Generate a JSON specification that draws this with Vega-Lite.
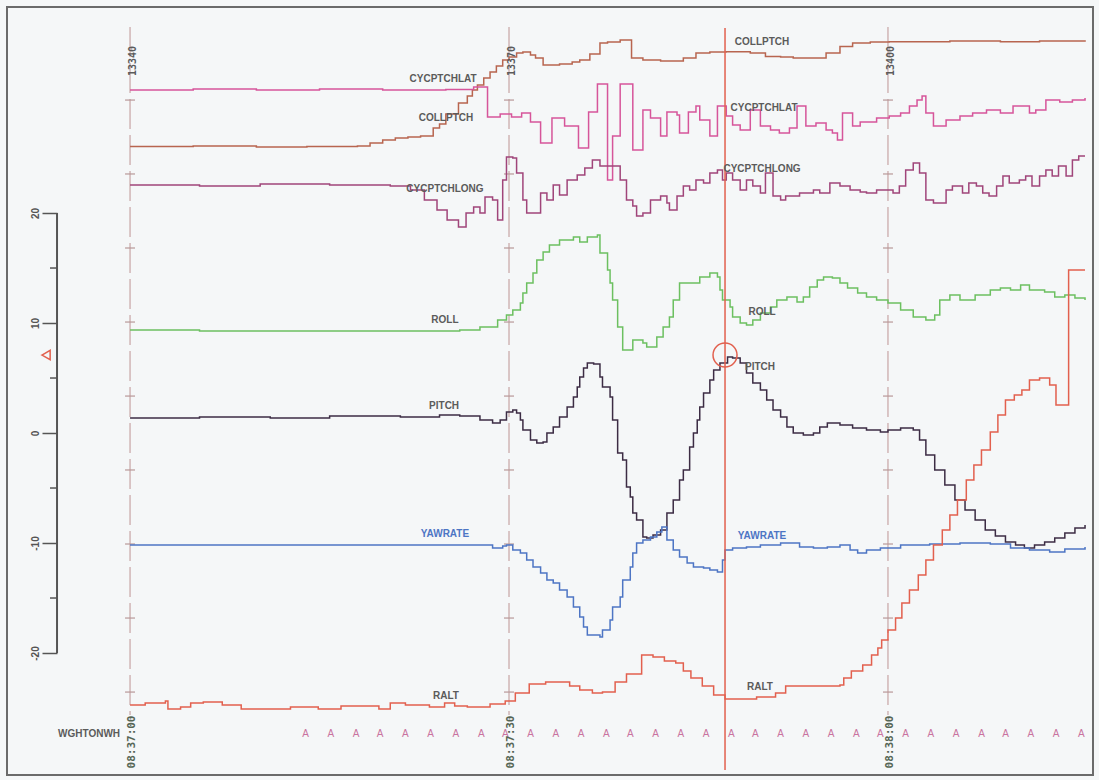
{
"$schema": "https://vega.github.io/schema/vega-lite/v6.json",
"width": 1086, "height": 768,
"autosize": {"type": "none"},
"padding": {"left": 7, "top": 7, "right": 6, "bottom": 5},
"background": "#f5f7f8",
"config": {"view": {"stroke": "#6b6b6b", "strokeWidth": 2}, "font": "Liberation Sans"},
"datasets": {
"series": [
{"s":"COLLPTCH","f":0.0,"v":26.05},{"s":"COLLPTCH","f":5.0,"v":26.09},{"s":"COLLPTCH","f":10.0,"v":26.0},{"s":"COLLPTCH","f":14.0,"v":26.05},{"s":"COLLPTCH","f":18.0,"v":26.09},{"s":"COLLPTCH","f":19.0,"v":26.36},{"s":"COLLPTCH","f":20.0,"v":26.64},{"s":"COLLPTCH","f":21.0,"v":26.82},{"s":"COLLPTCH","f":22.0,"v":26.91},{"s":"COLLPTCH","f":23.0,"v":27.0},{"s":"COLLPTCH","f":24.0,"v":27.73},{"s":"COLLPTCH","f":24.5,"v":28.09},{"s":"COLLPTCH","f":25.0,"v":29.0},{"s":"COLLPTCH","f":26.0,"v":30.0},{"s":"COLLPTCH","f":26.7,"v":30.64},{"s":"COLLPTCH","f":27.1,"v":31.18},{"s":"COLLPTCH","f":27.5,"v":31.64},{"s":"COLLPTCH","f":28.0,"v":32.27},{"s":"COLLPTCH","f":28.5,"v":32.82},{"s":"COLLPTCH","f":29.0,"v":33.36},{"s":"COLLPTCH","f":29.5,"v":33.91},{"s":"COLLPTCH","f":30.0,"v":34.18},{"s":"COLLPTCH","f":30.6,"v":34.55},{"s":"COLLPTCH","f":31.1,"v":34.64},{"s":"COLLPTCH","f":31.7,"v":34.36},{"s":"COLLPTCH","f":32.1,"v":34.09},{"s":"COLLPTCH","f":32.7,"v":33.45},{"s":"COLLPTCH","f":34.0,"v":33.55},{"s":"COLLPTCH","f":35.0,"v":33.73},{"s":"COLLPTCH","f":35.6,"v":33.91},{"s":"COLLPTCH","f":36.4,"v":34.45},{"s":"COLLPTCH","f":37.2,"v":35.45},{"s":"COLLPTCH","f":37.8,"v":35.55},{"s":"COLLPTCH","f":38.8,"v":35.73},{"s":"COLLPTCH","f":39.7,"v":34.09},{"s":"COLLPTCH","f":40.6,"v":33.91},{"s":"COLLPTCH","f":42.0,"v":33.82},{"s":"COLLPTCH","f":43.0,"v":33.82},{"s":"COLLPTCH","f":43.8,"v":34.09},{"s":"COLLPTCH","f":44.8,"v":34.55},{"s":"COLLPTCH","f":45.9,"v":34.64},{"s":"COLLPTCH","f":47.2,"v":34.67},{"s":"COLLPTCH","f":49.1,"v":34.55},{"s":"COLLPTCH","f":50.3,"v":34.23},{"s":"COLLPTCH","f":51.5,"v":34.18},{"s":"COLLPTCH","f":52.5,"v":34.09},{"s":"COLLPTCH","f":54.3,"v":34.09},{"s":"COLLPTCH","f":55.1,"v":34.55},{"s":"COLLPTCH","f":56.2,"v":35.13},{"s":"COLLPTCH","f":57.2,"v":35.45},{"s":"COLLPTCH","f":58.6,"v":35.55},{"s":"COLLPTCH","f":60.1,"v":35.58},{"s":"COLLPTCH","f":64.9,"v":35.64},{"s":"COLLPTCH","f":68.9,"v":35.58},{"s":"COLLPTCH","f":72.0,"v":35.64},{"s":"COLLPTCH","f":75.6,"v":35.58},
{"s":"CYCPTCHLAT","f":0.0,"v":31.18},{"s":"CYCPTCHLAT","f":5.0,"v":31.27},{"s":"CYCPTCHLAT","f":10.0,"v":31.18},{"s":"CYCPTCHLAT","f":15.0,"v":31.27},{"s":"CYCPTCHLAT","f":20.0,"v":31.18},{"s":"CYCPTCHLAT","f":25.0,"v":31.23},{"s":"CYCPTCHLAT","f":27.2,"v":31.45},{"s":"CYCPTCHLAT","f":28.3,"v":28.73},{"s":"CYCPTCHLAT","f":29.3,"v":29.0},{"s":"CYCPTCHLAT","f":30.2,"v":28.73},{"s":"CYCPTCHLAT","f":31.0,"v":29.09},{"s":"CYCPTCHLAT","f":31.7,"v":28.27},{"s":"CYCPTCHLAT","f":32.5,"v":26.36},{"s":"CYCPTCHLAT","f":33.4,"v":28.64},{"s":"CYCPTCHLAT","f":34.4,"v":27.91},{"s":"CYCPTCHLAT","f":35.5,"v":25.91},{"s":"CYCPTCHLAT","f":36.3,"v":29.18},{"s":"CYCPTCHLAT","f":37.0,"v":31.73},{"s":"CYCPTCHLAT","f":37.8,"v":23.0},{"s":"CYCPTCHLAT","f":38.2,"v":27.0},{"s":"CYCPTCHLAT","f":38.8,"v":31.73},{"s":"CYCPTCHLAT","f":39.8,"v":25.73},{"s":"CYCPTCHLAT","f":40.6,"v":29.36},{"s":"CYCPTCHLAT","f":41.2,"v":28.64},{"s":"CYCPTCHLAT","f":42.0,"v":27.0},{"s":"CYCPTCHLAT","f":42.5,"v":29.18},{"s":"CYCPTCHLAT","f":43.3,"v":28.91},{"s":"CYCPTCHLAT","f":43.5,"v":27.27},{"s":"CYCPTCHLAT","f":44.2,"v":29.18},{"s":"CYCPTCHLAT","f":44.8,"v":29.73},{"s":"CYCPTCHLAT","f":45.1,"v":28.45},{"s":"CYCPTCHLAT","f":45.9,"v":27.0},{"s":"CYCPTCHLAT","f":46.5,"v":29.73},{"s":"CYCPTCHLAT","f":47.2,"v":28.82},{"s":"CYCPTCHLAT","f":47.7,"v":28.0},{"s":"CYCPTCHLAT","f":48.3,"v":27.55},{"s":"CYCPTCHLAT","f":49.1,"v":29.36},{"s":"CYCPTCHLAT","f":49.9,"v":27.91},{"s":"CYCPTCHLAT","f":50.7,"v":27.55},{"s":"CYCPTCHLAT","f":51.4,"v":27.27},{"s":"CYCPTCHLAT","f":52.2,"v":27.73},{"s":"CYCPTCHLAT","f":52.8,"v":29.73},{"s":"CYCPTCHLAT","f":53.5,"v":27.91},{"s":"CYCPTCHLAT","f":54.3,"v":28.18},{"s":"CYCPTCHLAT","f":55.1,"v":27.55},{"s":"CYCPTCHLAT","f":55.6,"v":27.27},{"s":"CYCPTCHLAT","f":56.0,"v":26.64},{"s":"CYCPTCHLAT","f":56.4,"v":29.09},{"s":"CYCPTCHLAT","f":57.2,"v":27.91},{"s":"CYCPTCHLAT","f":57.8,"v":28.27},{"s":"CYCPTCHLAT","f":59.1,"v":28.64},{"s":"CYCPTCHLAT","f":60.1,"v":28.82},{"s":"CYCPTCHLAT","f":61.0,"v":29.09},{"s":"CYCPTCHLAT","f":61.7,"v":29.73},{"s":"CYCPTCHLAT","f":62.3,"v":30.27},{"s":"CYCPTCHLAT","f":62.7,"v":30.64},{"s":"CYCPTCHLAT","f":63.0,"v":29.09},{"s":"CYCPTCHLAT","f":63.6,"v":27.91},{"s":"CYCPTCHLAT","f":64.6,"v":28.45},{"s":"CYCPTCHLAT","f":65.7,"v":28.82},{"s":"CYCPTCHLAT","f":66.7,"v":29.09},{"s":"CYCPTCHLAT","f":67.8,"v":29.36},{"s":"CYCPTCHLAT","f":68.9,"v":29.09},{"s":"CYCPTCHLAT","f":69.9,"v":29.73},{"s":"CYCPTCHLAT","f":71.2,"v":29.09},{"s":"CYCPTCHLAT","f":71.7,"v":29.36},{"s":"CYCPTCHLAT","f":72.5,"v":30.27},{"s":"CYCPTCHLAT","f":73.6,"v":30.09},{"s":"CYCPTCHLAT","f":74.6,"v":30.27},{"s":"CYCPTCHLAT","f":75.6,"v":30.45},
{"s":"CYCPTCHLONG","f":0.0,"v":22.55},{"s":"CYCPTCHLONG","f":5.5,"v":22.45},{"s":"CYCPTCHLONG","f":10.3,"v":22.64},{"s":"CYCPTCHLONG","f":15.8,"v":22.55},{"s":"CYCPTCHLONG","f":20.6,"v":22.45},{"s":"CYCPTCHLONG","f":22.2,"v":22.09},{"s":"CYCPTCHLONG","f":23.3,"v":21.18},{"s":"CYCPTCHLONG","f":24.3,"v":20.27},{"s":"CYCPTCHLONG","f":25.1,"v":19.36},{"s":"CYCPTCHLONG","f":26.0,"v":18.73},{"s":"CYCPTCHLONG","f":26.6,"v":20.0},{"s":"CYCPTCHLONG","f":27.2,"v":20.55},{"s":"CYCPTCHLONG","f":27.7,"v":20.0},{"s":"CYCPTCHLONG","f":28.1,"v":21.45},{"s":"CYCPTCHLONG","f":28.7,"v":21.18},{"s":"CYCPTCHLONG","f":29.1,"v":19.36},{"s":"CYCPTCHLONG","f":29.5,"v":23.0},{"s":"CYCPTCHLONG","f":29.8,"v":25.09},{"s":"CYCPTCHLONG","f":30.3,"v":25.0},{"s":"CYCPTCHLONG","f":30.6,"v":23.64},{"s":"CYCPTCHLONG","f":31.1,"v":21.18},{"s":"CYCPTCHLONG","f":31.4,"v":20.0},{"s":"CYCPTCHLONG","f":32.2,"v":20.0},{"s":"CYCPTCHLONG","f":32.5,"v":21.82},{"s":"CYCPTCHLONG","f":33.0,"v":21.18},{"s":"CYCPTCHLONG","f":33.5,"v":22.55},{"s":"CYCPTCHLONG","f":34.0,"v":21.64},{"s":"CYCPTCHLONG","f":34.6,"v":23.0},{"s":"CYCPTCHLONG","f":35.4,"v":23.45},{"s":"CYCPTCHLONG","f":36.0,"v":24.09},{"s":"CYCPTCHLONG","f":36.6,"v":24.82},{"s":"CYCPTCHLONG","f":37.2,"v":24.27},{"s":"CYCPTCHLONG","f":38.2,"v":24.27},{"s":"CYCPTCHLONG","f":38.8,"v":23.0},{"s":"CYCPTCHLONG","f":39.3,"v":21.18},{"s":"CYCPTCHLONG","f":39.8,"v":20.64},{"s":"CYCPTCHLONG","f":40.1,"v":19.73},{"s":"CYCPTCHLONG","f":40.6,"v":20.0},{"s":"CYCPTCHLONG","f":41.2,"v":21.18},{"s":"CYCPTCHLONG","f":42.0,"v":21.55},{"s":"CYCPTCHLONG","f":42.5,"v":20.91},{"s":"CYCPTCHLONG","f":42.7,"v":20.27},{"s":"CYCPTCHLONG","f":43.3,"v":21.55},{"s":"CYCPTCHLONG","f":43.8,"v":22.45},{"s":"CYCPTCHLONG","f":44.3,"v":22.09},{"s":"CYCPTCHLONG","f":44.8,"v":23.0},{"s":"CYCPTCHLONG","f":45.4,"v":22.73},{"s":"CYCPTCHLONG","f":45.9,"v":23.64},{"s":"CYCPTCHLONG","f":46.5,"v":23.91},{"s":"CYCPTCHLONG","f":46.9,"v":23.0},{"s":"CYCPTCHLONG","f":47.2,"v":23.64},{"s":"CYCPTCHLONG","f":47.7,"v":23.0},{"s":"CYCPTCHLONG","f":48.3,"v":22.09},{"s":"CYCPTCHLONG","f":48.8,"v":23.0},{"s":"CYCPTCHLONG","f":49.3,"v":22.45},{"s":"CYCPTCHLONG","f":49.9,"v":21.82},{"s":"CYCPTCHLONG","f":50.3,"v":23.64},{"s":"CYCPTCHLONG","f":50.9,"v":21.55},{"s":"CYCPTCHLONG","f":51.5,"v":21.18},{"s":"CYCPTCHLONG","f":51.9,"v":21.55},{"s":"CYCPTCHLONG","f":53.0,"v":21.82},{"s":"CYCPTCHLONG","f":54.1,"v":22.09},{"s":"CYCPTCHLONG","f":54.6,"v":21.82},{"s":"CYCPTCHLONG","f":55.4,"v":22.73},{"s":"CYCPTCHLONG","f":56.2,"v":22.45},{"s":"CYCPTCHLONG","f":57.0,"v":22.09},{"s":"CYCPTCHLONG","f":57.8,"v":21.91},{"s":"CYCPTCHLONG","f":58.3,"v":21.82},{"s":"CYCPTCHLONG","f":59.1,"v":22.09},{"s":"CYCPTCHLONG","f":60.4,"v":21.82},{"s":"CYCPTCHLONG","f":60.9,"v":22.45},{"s":"CYCPTCHLONG","f":61.4,"v":23.91},{"s":"CYCPTCHLONG","f":62.0,"v":24.55},{"s":"CYCPTCHLONG","f":62.5,"v":23.64},{"s":"CYCPTCHLONG","f":63.0,"v":21.18},{"s":"CYCPTCHLONG","f":63.6,"v":20.91},{"s":"CYCPTCHLONG","f":64.6,"v":22.09},{"s":"CYCPTCHLONG","f":65.1,"v":22.45},{"s":"CYCPTCHLONG","f":65.9,"v":21.82},{"s":"CYCPTCHLONG","f":66.4,"v":22.73},{"s":"CYCPTCHLONG","f":67.0,"v":22.45},{"s":"CYCPTCHLONG","f":67.5,"v":21.82},{"s":"CYCPTCHLONG","f":68.0,"v":21.55},{"s":"CYCPTCHLONG","f":68.6,"v":22.45},{"s":"CYCPTCHLONG","f":69.1,"v":23.36},{"s":"CYCPTCHLONG","f":69.6,"v":22.73},{"s":"CYCPTCHLONG","f":70.4,"v":23.0},{"s":"CYCPTCHLONG","f":70.9,"v":23.36},{"s":"CYCPTCHLONG","f":71.4,"v":22.45},{"s":"CYCPTCHLONG","f":72.0,"v":23.36},{"s":"CYCPTCHLONG","f":72.5,"v":23.91},{"s":"CYCPTCHLONG","f":73.0,"v":23.36},{"s":"CYCPTCHLONG","f":73.5,"v":24.27},{"s":"CYCPTCHLONG","f":74.1,"v":23.36},{"s":"CYCPTCHLONG","f":74.6,"v":24.82},{"s":"CYCPTCHLONG","f":75.1,"v":25.18},{"s":"CYCPTCHLONG","f":75.6,"v":25.18},
{"s":"ROLL","f":0.0,"v":9.36},{"s":"ROLL","f":5.5,"v":9.27},{"s":"ROLL","f":11.1,"v":9.27},{"s":"ROLL","f":16.6,"v":9.27},{"s":"ROLL","f":21.4,"v":9.27},{"s":"ROLL","f":24.5,"v":9.27},{"s":"ROLL","f":26.1,"v":9.36},{"s":"ROLL","f":27.7,"v":9.64},{"s":"ROLL","f":29.1,"v":10.27},{"s":"ROLL","f":29.8,"v":10.73},{"s":"ROLL","f":30.3,"v":11.18},{"s":"ROLL","f":30.9,"v":11.82},{"s":"ROLL","f":31.1,"v":12.73},{"s":"ROLL","f":31.4,"v":13.64},{"s":"ROLL","f":31.9,"v":14.55},{"s":"ROLL","f":32.2,"v":15.73},{"s":"ROLL","f":32.7,"v":16.45},{"s":"ROLL","f":33.2,"v":17.09},{"s":"ROLL","f":34.0,"v":17.55},{"s":"ROLL","f":35.1,"v":17.82},{"s":"ROLL","f":35.6,"v":17.36},{"s":"ROLL","f":36.2,"v":17.82},{"s":"ROLL","f":37.0,"v":18.0},{"s":"ROLL","f":37.2,"v":16.36},{"s":"ROLL","f":37.8,"v":14.82},{"s":"ROLL","f":38.0,"v":13.64},{"s":"ROLL","f":38.2,"v":12.09},{"s":"ROLL","f":38.6,"v":9.64},{"s":"ROLL","f":39.0,"v":7.55},{"s":"ROLL","f":39.8,"v":8.45},{"s":"ROLL","f":40.6,"v":8.18},{"s":"ROLL","f":40.9,"v":7.82},{"s":"ROLL","f":41.7,"v":8.73},{"s":"ROLL","f":42.2,"v":9.64},{"s":"ROLL","f":42.7,"v":10.55},{"s":"ROLL","f":43.0,"v":12.09},{"s":"ROLL","f":43.5,"v":13.64},{"s":"ROLL","f":44.6,"v":13.64},{"s":"ROLL","f":45.1,"v":14.18},{"s":"ROLL","f":45.9,"v":14.55},{"s":"ROLL","f":46.5,"v":14.18},{"s":"ROLL","f":46.7,"v":13.0},{"s":"ROLL","f":46.9,"v":12.09},{"s":"ROLL","f":47.5,"v":11.45},{"s":"ROLL","f":47.7,"v":10.55},{"s":"ROLL","f":48.3,"v":10.0},{"s":"ROLL","f":48.8,"v":9.82},{"s":"ROLL","f":49.3,"v":10.27},{"s":"ROLL","f":49.9,"v":10.91},{"s":"ROLL","f":50.7,"v":11.45},{"s":"ROLL","f":51.2,"v":12.09},{"s":"ROLL","f":52.0,"v":12.36},{"s":"ROLL","f":52.8,"v":11.91},{"s":"ROLL","f":53.3,"v":12.36},{"s":"ROLL","f":53.8,"v":13.27},{"s":"ROLL","f":54.4,"v":13.91},{"s":"ROLL","f":54.9,"v":14.18},{"s":"ROLL","f":55.6,"v":14.09},{"s":"ROLL","f":56.2,"v":13.64},{"s":"ROLL","f":56.8,"v":13.18},{"s":"ROLL","f":57.6,"v":12.73},{"s":"ROLL","f":58.3,"v":12.36},{"s":"ROLL","f":59.1,"v":12.09},{"s":"ROLL","f":60.0,"v":11.82},{"s":"ROLL","f":61.0,"v":11.18},{"s":"ROLL","f":62.0,"v":10.55},{"s":"ROLL","f":63.0,"v":10.27},{"s":"ROLL","f":63.7,"v":10.73},{"s":"ROLL","f":64.1,"v":12.09},{"s":"ROLL","f":64.9,"v":12.55},{"s":"ROLL","f":65.7,"v":12.09},{"s":"ROLL","f":66.9,"v":12.55},{"s":"ROLL","f":68.1,"v":13.0},{"s":"ROLL","f":68.9,"v":13.18},{"s":"ROLL","f":69.7,"v":13.0},{"s":"ROLL","f":70.5,"v":13.45},{"s":"ROLL","f":71.2,"v":13.0},{"s":"ROLL","f":72.4,"v":12.82},{"s":"ROLL","f":73.2,"v":12.36},{"s":"ROLL","f":74.0,"v":12.55},{"s":"ROLL","f":74.8,"v":12.27},{"s":"ROLL","f":75.6,"v":12.09},
{"s":"PITCH","f":0.0,"v":1.36},{"s":"PITCH","f":5.5,"v":1.45},{"s":"PITCH","f":11.1,"v":1.36},{"s":"PITCH","f":15.8,"v":1.55},{"s":"PITCH","f":21.4,"v":1.45},{"s":"PITCH","f":24.5,"v":1.64},{"s":"PITCH","f":26.1,"v":1.55},{"s":"PITCH","f":27.7,"v":1.18},{"s":"PITCH","f":28.7,"v":0.91},{"s":"PITCH","f":29.3,"v":1.18},{"s":"PITCH","f":29.8,"v":1.91},{"s":"PITCH","f":30.3,"v":2.09},{"s":"PITCH","f":30.6,"v":1.82},{"s":"PITCH","f":30.9,"v":1.18},{"s":"PITCH","f":31.1,"v":0.27},{"s":"PITCH","f":31.7,"v":-0.64},{"s":"PITCH","f":32.2,"v":-0.91},{"s":"PITCH","f":32.7,"v":-0.82},{"s":"PITCH","f":33.0,"v":0.0},{"s":"PITCH","f":33.5,"v":0.55},{"s":"PITCH","f":34.0,"v":1.45},{"s":"PITCH","f":34.6,"v":2.36},{"s":"PITCH","f":35.1,"v":3.27},{"s":"PITCH","f":35.4,"v":4.18},{"s":"PITCH","f":35.6,"v":5.09},{"s":"PITCH","f":35.9,"v":5.91},{"s":"PITCH","f":36.2,"v":6.36},{"s":"PITCH","f":36.7,"v":6.27},{"s":"PITCH","f":37.2,"v":5.09},{"s":"PITCH","f":37.4,"v":4.18},{"s":"PITCH","f":38.0,"v":3.27},{"s":"PITCH","f":38.2,"v":1.18},{"s":"PITCH","f":38.6,"v":-1.82},{"s":"PITCH","f":39.0,"v":-2.45},{"s":"PITCH","f":39.3,"v":-4.91},{"s":"PITCH","f":39.6,"v":-5.82},{"s":"PITCH","f":39.8,"v":-7.27},{"s":"PITCH","f":40.1,"v":-7.91},{"s":"PITCH","f":40.6,"v":-9.45},{"s":"PITCH","f":40.9,"v":-9.55},{"s":"PITCH","f":41.4,"v":-9.27},{"s":"PITCH","f":42.0,"v":-8.82},{"s":"PITCH","f":42.5,"v":-7.27},{"s":"PITCH","f":43.0,"v":-6.09},{"s":"PITCH","f":43.5,"v":-4.27},{"s":"PITCH","f":43.8,"v":-3.36},{"s":"PITCH","f":44.3,"v":-1.27},{"s":"PITCH","f":44.6,"v":0.0},{"s":"PITCH","f":44.9,"v":1.18},{"s":"PITCH","f":45.1,"v":2.36},{"s":"PITCH","f":45.4,"v":3.64},{"s":"PITCH","f":45.9,"v":4.82},{"s":"PITCH","f":46.2,"v":5.73},{"s":"PITCH","f":46.7,"v":6.36},{"s":"PITCH","f":47.3,"v":6.91},{"s":"PITCH","f":47.7,"v":6.82},{"s":"PITCH","f":48.3,"v":6.36},{"s":"PITCH","f":48.8,"v":5.45},{"s":"PITCH","f":49.3,"v":4.55},{"s":"PITCH","f":49.9,"v":3.91},{"s":"PITCH","f":50.4,"v":3.0},{"s":"PITCH","f":50.9,"v":2.09},{"s":"PITCH","f":51.5,"v":1.45},{"s":"PITCH","f":52.0,"v":0.55},{"s":"PITCH","f":52.5,"v":0.0},{"s":"PITCH","f":53.3,"v":-0.18},{"s":"PITCH","f":54.1,"v":0.0},{"s":"PITCH","f":54.6,"v":0.55},{"s":"PITCH","f":55.2,"v":0.91},{"s":"PITCH","f":56.2,"v":0.73},{"s":"PITCH","f":57.2,"v":0.45},{"s":"PITCH","f":58.3,"v":0.27},{"s":"PITCH","f":59.4,"v":0.09},{"s":"PITCH","f":60.0,"v":0.27},{"s":"PITCH","f":61.0,"v":0.45},{"s":"PITCH","f":62.0,"v":0.27},{"s":"PITCH","f":62.5,"v":-0.64},{"s":"PITCH","f":63.0,"v":-2.0},{"s":"PITCH","f":63.7,"v":-3.36},{"s":"PITCH","f":64.5,"v":-4.73},{"s":"PITCH","f":65.3,"v":-6.09},{"s":"PITCH","f":66.1,"v":-7.0},{"s":"PITCH","f":66.9,"v":-7.91},{"s":"PITCH","f":67.7,"v":-8.82},{"s":"PITCH","f":68.5,"v":-9.36},{"s":"PITCH","f":69.3,"v":-9.91},{"s":"PITCH","f":70.1,"v":-10.18},{"s":"PITCH","f":70.8,"v":-10.45},{"s":"PITCH","f":71.6,"v":-10.18},{"s":"PITCH","f":72.4,"v":-9.91},{"s":"PITCH","f":73.2,"v":-9.55},{"s":"PITCH","f":74.0,"v":-9.09},{"s":"PITCH","f":74.8,"v":-8.64},{"s":"PITCH","f":75.6,"v":-8.36},
{"s":"YAWRATE","f":0.0,"v":-10.18},{"s":"YAWRATE","f":9.5,"v":-10.18},{"s":"YAWRATE","f":19.8,"v":-10.18},{"s":"YAWRATE","f":28.5,"v":-10.18},{"s":"YAWRATE","f":28.7,"v":-10.45},{"s":"YAWRATE","f":29.5,"v":-10.27},{"s":"YAWRATE","f":29.8,"v":-10.18},{"s":"YAWRATE","f":30.3,"v":-10.64},{"s":"YAWRATE","f":30.9,"v":-10.91},{"s":"YAWRATE","f":31.4,"v":-11.55},{"s":"YAWRATE","f":31.9,"v":-12.18},{"s":"YAWRATE","f":32.5,"v":-12.73},{"s":"YAWRATE","f":33.0,"v":-13.36},{"s":"YAWRATE","f":33.5,"v":-13.64},{"s":"YAWRATE","f":34.0,"v":-14.27},{"s":"YAWRATE","f":34.6,"v":-14.91},{"s":"YAWRATE","f":35.1,"v":-15.82},{"s":"YAWRATE","f":35.6,"v":-16.73},{"s":"YAWRATE","f":35.9,"v":-17.64},{"s":"YAWRATE","f":36.2,"v":-18.36},{"s":"YAWRATE","f":37.2,"v":-18.55},{"s":"YAWRATE","f":37.4,"v":-17.91},{"s":"YAWRATE","f":38.0,"v":-17.0},{"s":"YAWRATE","f":38.2,"v":-15.82},{"s":"YAWRATE","f":38.8,"v":-14.91},{"s":"YAWRATE","f":39.0,"v":-13.36},{"s":"YAWRATE","f":39.6,"v":-12.18},{"s":"YAWRATE","f":39.8,"v":-10.91},{"s":"YAWRATE","f":40.1,"v":-10.0},{"s":"YAWRATE","f":40.6,"v":-9.73},{"s":"YAWRATE","f":41.2,"v":-9.45},{"s":"YAWRATE","f":41.7,"v":-9.0},{"s":"YAWRATE","f":42.1,"v":-8.55},{"s":"YAWRATE","f":42.5,"v":-9.73},{"s":"YAWRATE","f":43.0,"v":-10.64},{"s":"YAWRATE","f":43.5,"v":-11.27},{"s":"YAWRATE","f":44.1,"v":-11.82},{"s":"YAWRATE","f":44.6,"v":-12.18},{"s":"YAWRATE","f":45.4,"v":-12.27},{"s":"YAWRATE","f":45.9,"v":-12.45},{"s":"YAWRATE","f":46.5,"v":-12.64},{"s":"YAWRATE","f":46.9,"v":-11.55},{"s":"YAWRATE","f":47.1,"v":-10.64},{"s":"YAWRATE","f":47.7,"v":-10.45},{"s":"YAWRATE","f":48.8,"v":-10.36},{"s":"YAWRATE","f":49.9,"v":-10.18},{"s":"YAWRATE","f":51.5,"v":-10.0},{"s":"YAWRATE","f":53.0,"v":-10.36},{"s":"YAWRATE","f":54.1,"v":-10.45},{"s":"YAWRATE","f":55.2,"v":-10.36},{"s":"YAWRATE","f":56.2,"v":-10.18},{"s":"YAWRATE","f":57.0,"v":-10.64},{"s":"YAWRATE","f":57.6,"v":-10.91},{"s":"YAWRATE","f":58.3,"v":-10.64},{"s":"YAWRATE","f":59.4,"v":-10.45},{"s":"YAWRATE","f":61.0,"v":-10.18},{"s":"YAWRATE","f":63.3,"v":-10.09},{"s":"YAWRATE","f":65.7,"v":-10.0},{"s":"YAWRATE","f":68.1,"v":-10.09},{"s":"YAWRATE","f":69.7,"v":-10.45},{"s":"YAWRATE","f":71.2,"v":-10.64},{"s":"YAWRATE","f":72.8,"v":-10.82},{"s":"YAWRATE","f":74.0,"v":-10.55},{"s":"YAWRATE","f":75.6,"v":-10.36},
{"s":"RALT","f":0.0,"v":-24.73},{"s":"RALT","f":1.2,"v":-24.55},{"s":"RALT","f":2.8,"v":-24.36},{"s":"RALT","f":3.0,"v":-25.09},{"s":"RALT","f":4.0,"v":-24.91},{"s":"RALT","f":4.8,"v":-24.55},{"s":"RALT","f":5.8,"v":-24.45},{"s":"RALT","f":7.3,"v":-24.73},{"s":"RALT","f":8.8,"v":-25.09},{"s":"RALT","f":12.7,"v":-24.91},{"s":"RALT","f":14.9,"v":-25.09},{"s":"RALT","f":16.7,"v":-24.82},{"s":"RALT","f":19.7,"v":-25.09},{"s":"RALT","f":20.6,"v":-24.55},{"s":"RALT","f":21.8,"v":-24.73},{"s":"RALT","f":23.7,"v":-24.91},{"s":"RALT","f":24.9,"v":-24.55},{"s":"RALT","f":25.7,"v":-24.82},{"s":"RALT","f":26.7,"v":-24.91},{"s":"RALT","f":28.5,"v":-24.64},{"s":"RALT","f":29.7,"v":-24.36},{"s":"RALT","f":30.5,"v":-23.64},{"s":"RALT","f":31.6,"v":-22.82},{"s":"RALT","f":32.9,"v":-22.64},{"s":"RALT","f":34.8,"v":-23.0},{"s":"RALT","f":35.6,"v":-23.36},{"s":"RALT","f":36.6,"v":-23.64},{"s":"RALT","f":37.4,"v":-23.55},{"s":"RALT","f":38.4,"v":-22.64},{"s":"RALT","f":39.3,"v":-21.91},{"s":"RALT","f":40.5,"v":-20.18},{"s":"RALT","f":41.4,"v":-20.36},{"s":"RALT","f":42.3,"v":-20.73},{"s":"RALT","f":43.2,"v":-20.91},{"s":"RALT","f":43.8,"v":-21.64},{"s":"RALT","f":44.4,"v":-22.27},{"s":"RALT","f":45.3,"v":-23.0},{"s":"RALT","f":46.2,"v":-23.82},{"s":"RALT","f":47.1,"v":-24.18},{"s":"RALT","f":48.6,"v":-24.18},{"s":"RALT","f":49.6,"v":-24.0},{"s":"RALT","f":51.1,"v":-23.64},{"s":"RALT","f":51.9,"v":-23.0},{"s":"RALT","f":53.5,"v":-23.0},{"s":"RALT","f":56.2,"v":-22.91},{"s":"RALT","f":56.5,"v":-22.27},{"s":"RALT","f":57.1,"v":-21.64},{"s":"RALT","f":58.0,"v":-21.09},{"s":"RALT","f":58.7,"v":-20.18},{"s":"RALT","f":59.2,"v":-19.55},{"s":"RALT","f":59.5,"v":-18.82},{"s":"RALT","f":60.0,"v":-17.91},{"s":"RALT","f":60.6,"v":-16.82},{"s":"RALT","f":61.1,"v":-15.45},{"s":"RALT","f":61.7,"v":-14.27},{"s":"RALT","f":62.4,"v":-12.91},{"s":"RALT","f":63.0,"v":-11.55},{"s":"RALT","f":63.6,"v":-10.18},{"s":"RALT","f":64.3,"v":-8.82},{"s":"RALT","f":64.9,"v":-7.45},{"s":"RALT","f":65.5,"v":-6.09},{"s":"RALT","f":66.2,"v":-4.27},{"s":"RALT","f":66.8,"v":-2.91},{"s":"RALT","f":67.4,"v":-1.55},{"s":"RALT","f":68.1,"v":0.09},{"s":"RALT","f":68.7,"v":1.64},{"s":"RALT","f":69.3,"v":3.0},{"s":"RALT","f":70.0,"v":3.45},{"s":"RALT","f":70.6,"v":3.91},{"s":"RALT","f":71.2,"v":4.82},{"s":"RALT","f":72.0,"v":5.0},{"s":"RALT","f":72.8,"v":4.36},{"s":"RALT","f":73.3,"v":2.55},{"s":"RALT","f":74.3,"v":14.82},{"s":"RALT","f":75.6,"v":14.82}
],
"grayLabels": [
{"f":24.78,"v":32.18,"t":"CYCPTCHLAT"},{"f":25.01,"v":28.64,"t":"COLLPTCH"},{"f":24.93,"v":22.18,"t":"CYCPTCHLONG"},
{"f":50.03,"v":35.55,"t":"COLLPTCH"},{"f":50.19,"v":29.55,"t":"CYCPTCHLAT"},{"f":50.03,"v":24.0,"t":"CYCPTCHLONG"},
{"f":24.93,"v":10.27,"t":"ROLL"},{"f":50.03,"v":11.0,"t":"ROLL"},
{"f":24.86,"v":2.45,"t":"PITCH"},{"f":49.87,"v":6.0,"t":"PITCH"},
{"f":25.01,"v":-23.91,"t":"RALT"},{"f":49.87,"v":-23.09,"t":"RALT"}
],
"blueLabels": [
{"f":24.93,"v":-9.18,"t":"YAWRATE"},{"f":50.03,"v":-9.36,"t":"YAWRATE"}
],
"marksA": [
{"f":13.9,"v":-27.36},{"f":15.9,"v":-27.36},{"f":17.9,"v":-27.36},{"f":19.8,"v":-27.36},{"f":21.8,"v":-27.36},{"f":23.8,"v":-27.36},{"f":25.8,"v":-27.36},{"f":27.8,"v":-27.36},{"f":29.7,"v":-27.36},{"f":31.7,"v":-27.36},{"f":33.7,"v":-27.36},{"f":35.7,"v":-27.36},{"f":37.7,"v":-27.36},{"f":39.6,"v":-27.36},{"f":41.6,"v":-27.36},{"f":43.6,"v":-27.36},{"f":45.6,"v":-27.36},{"f":47.6,"v":-27.36},{"f":49.5,"v":-27.36},{"f":51.5,"v":-27.36},{"f":53.5,"v":-27.36},{"f":55.5,"v":-27.36},{"f":57.5,"v":-27.36},{"f":59.4,"v":-27.36},{"f":61.4,"v":-27.36},{"f":63.4,"v":-27.36},{"f":65.4,"v":-27.36},{"f":67.4,"v":-27.36},{"f":69.3,"v":-27.36},{"f":71.3,"v":-27.36},{"f":73.3,"v":-27.36},{"f":75.3,"v":-27.36}
],
"dash": [
{"f":0,"v":36.91,"v2":-25.64},{"f":30,"v":36.91,"v2":-25.64},{"f":60,"v":36.91,"v2":-25.64}
],
"cross": [
{"f":0,"v":30.27},{"f":0,"v":23.55},{"f":0,"v":16.82},{"f":0,"v":10.09},{"f":0,"v":3.36},{"f":0,"v":-3.36},{"f":0,"v":-10.09},{"f":0,"v":-16.82},{"f":0,"v":-23.55},
{"f":30,"v":30.27},{"f":30,"v":23.55},{"f":30,"v":16.82},{"f":30,"v":10.09},{"f":30,"v":3.36},{"f":30,"v":-3.36},{"f":30,"v":-10.09},{"f":30,"v":-16.82},{"f":30,"v":-23.55},
{"f":60,"v":30.27},{"f":60,"v":23.55},{"f":60,"v":16.82},{"f":60,"v":10.09},{"f":60,"v":3.36},{"f":60,"v":-3.36},{"f":60,"v":-10.09},{"f":60,"v":-16.82},{"f":60,"v":-23.55}
],
"frameLabels": [
{"f":0.25,"v":33.82,"t":"13340"},{"f":30.25,"v":33.82,"t":"13370"},{"f":60.25,"v":33.82,"t":"13400"}
],
"timeLabels": [
{"f":0.15,"v":-28.09,"t":"08:37:00"},{"f":30.15,"v":-28.09,"t":"08:37:30"},{"f":60.15,"v":-28.09,"t":"08:38:00"}
]
},
"encoding": {
"x": {"field": "f", "type": "quantitative", "scale": {"domain": [-9.74, 76.23], "nice": false, "zero": false}, "axis": null},
"y": {"field": "v", "type": "quantitative", "scale": {"domain": [-31.09, 38.73], "nice": false, "zero": false},
 "axis": {"title": null, "values": [-20, -10, 0, 10, 20], "domain": false, "grid": false, "offset": -50, "tickSize": 15, "tickWidth": 1.5, "tickColor": "#555555", "labelAngle": 270, "labelAlign": "center", "labelBaseline": "bottom", "labelPadding": 2, "labelFont": "Liberation Sans", "labelFontSize": 10, "labelFontWeight": "bold", "labelColor": "#555555", "labelExpr": "'' + datum.value"}}
},
"layer": [
{"data": {"name": "dash"}, "mark": {"type": "rule", "stroke": "#c7a5a5", "strokeWidth": 1.2, "strokeDash": [30, 6]}, "encoding": {"y2": {"field": "v2"}}},
{"data": {"name": "cross"}, "mark": {"type": "point", "shape": "stroke", "size": 100, "filled": false, "stroke": "#b89898", "strokeWidth": 1.2, "opacity": 1}},
{"data": {"values": [{"f": -5.78, "v": 20, "v2": -20}]}, "mark": {"type": "rule", "stroke": "#555555", "strokeWidth": 2}, "encoding": {"y2": {"field": "v2"}}},
{"data": {"values": [{"f": -6.06, "v": 15}, {"f": -6.06, "v": 5}, {"f": -6.06, "v": -5}, {"f": -6.06, "v": -15}]}, "mark": {"type": "point", "shape": "stroke", "size": 49, "filled": false, "stroke": "#555555", "strokeWidth": 1.5, "opacity": 1}},
{"data": {"name": "series"}, "mark": {"type": "line", "interpolate": "step-after", "strokeWidth": 1.5},
 "encoding": {"color": {"field": "s", "type": "nominal", "legend": null,
  "scale": {"domain": ["COLLPTCH","CYCPTCHLAT","CYCPTCHLONG","ROLL","PITCH","YAWRATE","RALT"], "range": ["#b8654f","#d6559a","#a0457a","#6cc060","#3c2c44","#4d75c4","#e2604e"]}}}},
{"data": {"values": [{"f": 47.1, "v": 36.82, "v2": -30.64}]}, "mark": {"type": "rule", "stroke": "#e2604e", "strokeWidth": 1.5}, "encoding": {"y2": {"field": "v2"}}},
{"data": {"values": [{"f": 47.1, "v": 7.09}]}, "mark": {"type": "point", "shape": "circle", "size": 576, "filled": false, "stroke": "#e2604e", "strokeWidth": 1.5, "opacity": 1}},
{"data": {"values": [{"f": -6.65, "v": 7.09}]}, "mark": {"type": "point", "shape": "triangle-left", "size": 90, "filled": false, "stroke": "#e2604e", "strokeWidth": 1.5, "opacity": 1}},
{"data": {"name": "grayLabels"}, "mark": {"type": "text", "font": "Liberation Sans", "fontSize": 10, "fontWeight": "bold", "fill": "#5b5b5b", "align": "center", "baseline": "middle"}, "encoding": {"text": {"field": "t"}}},
{"data": {"name": "blueLabels"}, "mark": {"type": "text", "font": "Liberation Sans", "fontSize": 10, "fontWeight": "bold", "fill": "#4d75c4", "align": "center", "baseline": "middle"}, "encoding": {"text": {"field": "t"}}},
{"data": {"values": [{"f": -0.79, "v": -27.36, "t": "WGHTONWH"}]}, "mark": {"type": "text", "font": "Liberation Sans", "fontSize": 10, "fontWeight": "bold", "fill": "#5b5b5b", "align": "right", "baseline": "middle"}, "encoding": {"text": {"field": "t"}}},
{"data": {"name": "marksA"}, "mark": {"type": "text", "text": "A", "font": "Liberation Sans", "fontSize": 10, "fill": "#c9739f", "align": "center", "baseline": "middle"}},
{"data": {"name": "frameLabels"}, "mark": {"type": "text", "angle": 270, "font": "DejaVu Sans Mono", "fontSize": 10, "fontWeight": "bold", "fill": "#5b5b5b", "align": "center", "baseline": "middle"}, "encoding": {"text": {"field": "t"}}},
{"data": {"name": "timeLabels"}, "mark": {"type": "text", "angle": 270, "font": "DejaVu Sans Mono", "fontSize": 11, "fontWeight": "bold", "fill": "#566656", "align": "center", "baseline": "middle"}, "encoding": {"text": {"field": "t"}}}
]
}
